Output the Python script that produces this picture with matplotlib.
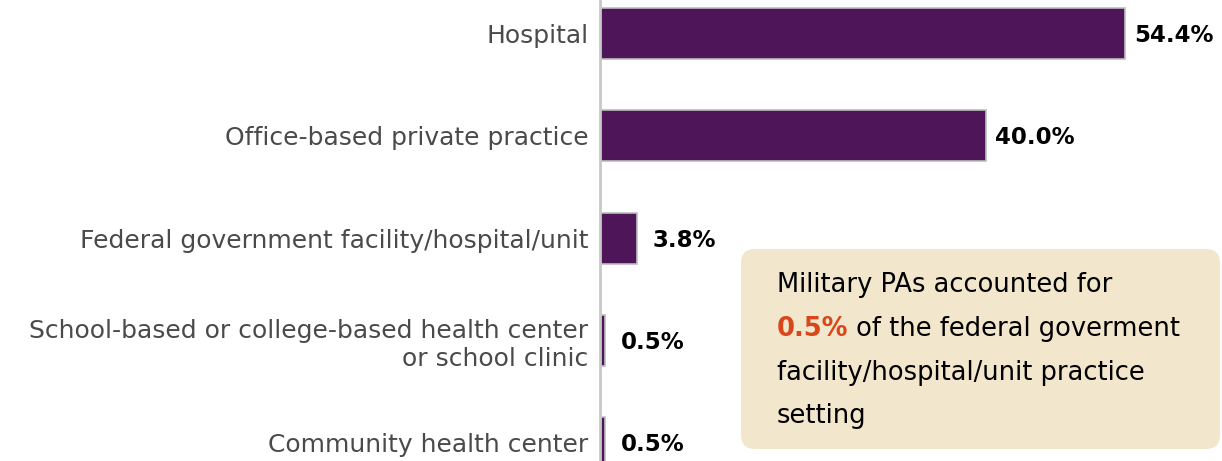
import matplotlib
matplotlib.use('Agg')
import matplotlib.pyplot as plt
from matplotlib.patches import FancyBboxPatch
from matplotlib.transforms import IdentityTransform


settings = ['Hospital',
            'Office-based private practice',
            'Federal government facility/hospital/unit',
            'School-based or college-based health center\nor school clinic',
            'Community health center']
shares = [54.4, 40.0, 3.8, 0.5, 0.5]
value_labels = ['54.4%', '40.0%', '3.8%', '0.5%', '0.5%']

note_lines = ['Military PAs accounted for',
              ' of the federal goverment',
              'facility/hospital/unit practice',
              'setting']
note_highlight = '0.5%'

plt.rcParams['font.family'] = ['DejaVu Sans']

W, H = 1222, 461
fig = plt.figure(figsize=(W / 100, H / 100), dpi=100)
ax = fig.add_axes([600 / W, 0, 1 - 600 / W, 1])

pos = list(range(len(settings)))
ax.barh(pos, shares, height=0.5, color='#4e1558', edgecolor='#bdbdbd', linewidth=1.2)

ax.set_xlim(0, 622 / 9.65)
ax.set_ylim(4.18, -0.328)

for y, v, lab in zip(pos, shares, value_labels):
	off = 9 if v > 10 else 16
	ax.annotate(lab, (v, y), xytext=(off, -2), textcoords='offset pixels',
	            ha='left', va='center', fontsize=16.5, fontweight='bold', color='black')

ax.set_yticks(pos)
ax.set_yticklabels(settings, fontsize=18, color='#4a4a4a', ha='right')
ax.tick_params(axis='y', length=0, pad=8.5)
ax.set_xticks([])
for s in ['top', 'right', 'bottom']:
	ax.spines[s].set_visible(False)
ax.spines['left'].set_color('#c8c8c8')
ax.spines['left'].set_linewidth(2)

# note box (pixel coordinates, origin bottom-left)
box = FancyBboxPatch((741, H - 449), 479, 200, boxstyle='round,pad=0,rounding_size=14',
                     transform=IdentityTransform(), facecolor='#f2e7cc', edgecolor='none')
fig.patches.append(box)

fs = 18.5
base = [H - 292, H - 336, H - 380, H - 423]
fig.text(777 / W, base[0] / H, note_lines[0], fontsize=fs, color='black', va='baseline')
t = fig.text(777 / W, base[1] / H, note_highlight, fontsize=fs, fontweight='bold',
             color='#d9461a', va='baseline')
fig.canvas.draw()
fig.text(t.get_window_extent().x1 / W, base[1] / H, note_lines[1], fontsize=fs,
         color='black', va='baseline')
fig.text(777 / W, base[2] / H, note_lines[2], fontsize=fs, color='black', va='baseline')
fig.text(777 / W, base[3] / H, note_lines[3], fontsize=fs, color='black', va='baseline')

plt.savefig('out.png', dpi=100)
plt.close()
